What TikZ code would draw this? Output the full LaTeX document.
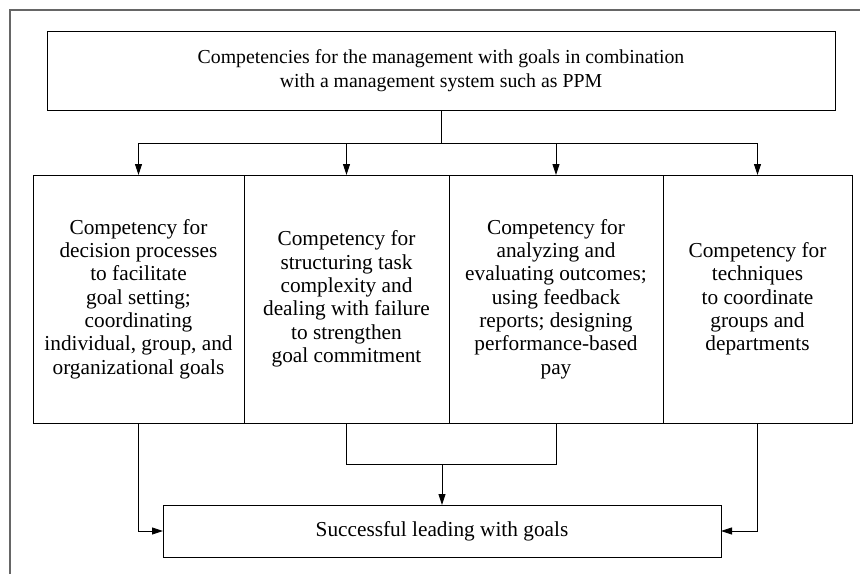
\documentclass[tikz,border=0pt]{standalone}
\usepackage{fontspec}
\setmainfont{Liberation Serif}
\usetikzlibrary{arrows.meta,positioning}

\begin{document}
\begin{tikzpicture}[
      x=1pt, y=-1pt,
      node distance=0pt,
      every node/.style={font=\fontsize{21.3}{23.3}\selectfont},
      block/.style={rectangle, draw, line width=0.9pt, align=center, outer sep=0pt, inner sep=2pt},
      compbox/.style={block, minimum height=248pt},
      line/.style={draw, line width=0.9pt},
      arrowline/.style={line, -{Triangle[length=11pt, width=7pt]}},
      frame/.style={draw=black!60, line width=1.6pt}
    ]
    \useasboundingbox (0,0) rectangle (863,574);
    \draw [frame] (10,574) -- (10,10) -- (860,10);
    % Nodes
    \node [block, minimum width=788pt, minimum height=79pt, font=\fontsize{19.8}{23.5}\selectfont] (goals) at (441,70.5) {Competencies for the management with goals in combination\\ with a management system such as PPM};
    \node [compbox, minimum width=211pt, anchor=north west] (decision) at (33,175) {Competency for\\ decision processes\\ to facilitate\\ goal setting;\\ coordinating\\ individual, group, and\\ organizational goals};
    \node [compbox, minimum width=205pt, right=of decision] (structure) {Competency for\\ structuring task\\ complexity and\\ dealing with failure\\ to strengthen\\ goal commitment};
    \node [compbox, minimum width=214pt, right=of structure] (analysis) {Competency for\\ analyzing and\\ evaluating outcomes;\\ using feedback\\ reports; designing\\ performance-based\\ pay};
    \node [compbox, minimum width=189pt, right=of analysis] (techniques) {Competency for\\ techniques\\ to coordinate\\ groups and\\ departments};
    \node [block, minimum width=558pt, minimum height=52pt] (success) at (442,531) {Successful leading with goals};
    % Lines
    \path [arrowline] (goals.south) -- ++(0,33) -| (decision.north);
    \path [arrowline] (goals.south) -- ++(0,33) -| (structure.north);
    \path [arrowline] (goals.south) -- ++(0,33) -| (analysis.north);
    \path [arrowline] (goals.south) -- ++(0,33) -| (techniques.north);
    \path [arrowline] (decision.south) |- (success.west);
    \path [arrowline] (techniques.south) |- (success.east);
    \path [line] (structure.south) -- ++(0,41) -| (analysis.south);
    \path [arrowline] (success.north |- structure.south) ++(0,41) -- (success.north);
  \end{tikzpicture}
\end{document}
